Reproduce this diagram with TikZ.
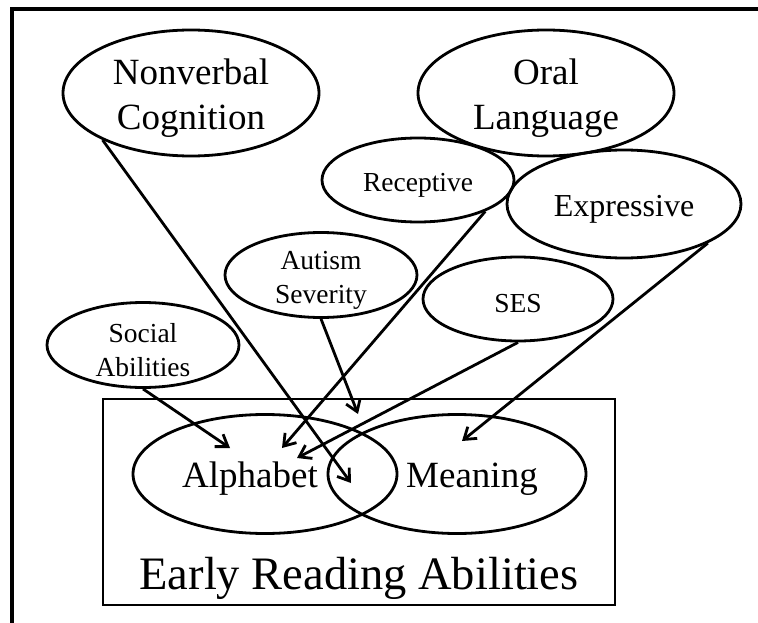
\documentclass[tikz,border=0pt]{standalone}
\usepackage{fontspec}
\setmainfont{Liberation Serif}
\usetikzlibrary{shapes.geometric, arrows.meta}
\newcommand{\dropline}[1]{\raisebox{-5pt}[\height][\depth]{#1}}

\begin{document}
\begin{tikzpicture}[x=1pt, y=-1pt, line width=2.8pt,
  oval/.style={draw, ellipse, inner sep=0pt, align=center},
  bigtext/.style={font=\fontsize{37}{45}\selectfont},
  smalltext/.style={font=\fontsize{27.5}{34}\selectfont},
  link/.style={-{Straight Barb[length=11pt, width=15pt]}}]
  \useasboundingbox (0,0) rectangle (758,623);

  % frame
  \draw [line width=3.2pt] (12,623) -- (12,9) -- (758,9);

  % predictors
  \node [oval, bigtext, minimum width=256pt, minimum height=126pt] (nonverbal) at (191,93) {\dropline{Nonverbal}\\\dropline{Cognition}};
  \node [oval, bigtext, minimum width=256pt, minimum height=126pt] (oral) at (546,93) {\dropline{Oral}\\\dropline{Language}};
  \node [oval, smalltext, minimum width=192pt, minimum height=84pt] (receptive) at (418,180) {\dropline{Receptive}};
  \node [oval, font=\fontsize{32}{38}\selectfont, minimum width=234pt, minimum height=108pt] (expressive) at (624,204) {\dropline{Expressive}};
  \node [oval, smalltext, minimum width=192pt, minimum height=85pt] (autism) at (321,275) {\dropline{Autism}\\\dropline{Severity}};
  \node [oval, smalltext, minimum width=190pt, minimum height=84pt] (ses) at (518,299) {\dropline{SES}};
  \node [oval, smalltext, minimum width=192pt, minimum height=85pt] (social) at (143,345) {\dropline{Social}\\\dropline{Abilities}};

  % outcome
  \node [draw, rectangle, inner sep=0pt, minimum width=512pt, minimum height=206pt] (reading) at (359,502) {};
  \node [oval, font=\fontsize{37}{44}\selectfont, minimum width=264pt, minimum height=119pt] (alphabet) at (265,474) {\dropline{Alphabet}\hspace{30pt}};
  \node [oval, font=\fontsize{37}{44}\selectfont, minimum width=258pt, minimum height=119pt] (meaning) at (457,474) {\hspace{30pt}\dropline{Meaning}};
  \node [anchor=base, inner sep=0pt, font=\fontsize{46.5}{55}\selectfont] (readinglabel) at (359,589) {Early Reading Abilities};

  % arrow tips
  \coordinate (nvtip) at (351,483);
  \coordinate (rectip) at (282,448);
  \coordinate (auttip) at (358,414);
  \coordinate (sestip) at (297,458);
  \coordinate (exptip) at (462,441);
  \coordinate (soctip) at (230,448);

  % edges
  \draw [link] (nonverbal.208) -- (nvtip);
  \draw [link] (receptive.335) -- (rectip);
  \draw [link] (autism.south) -- (auttip);
  \draw [link] (ses.south) -- (sestip);
  \draw [link] (expressive.335) -- (exptip);
  \draw [link] (social.south) -- (soctip);
\end{tikzpicture}
\end{document}
